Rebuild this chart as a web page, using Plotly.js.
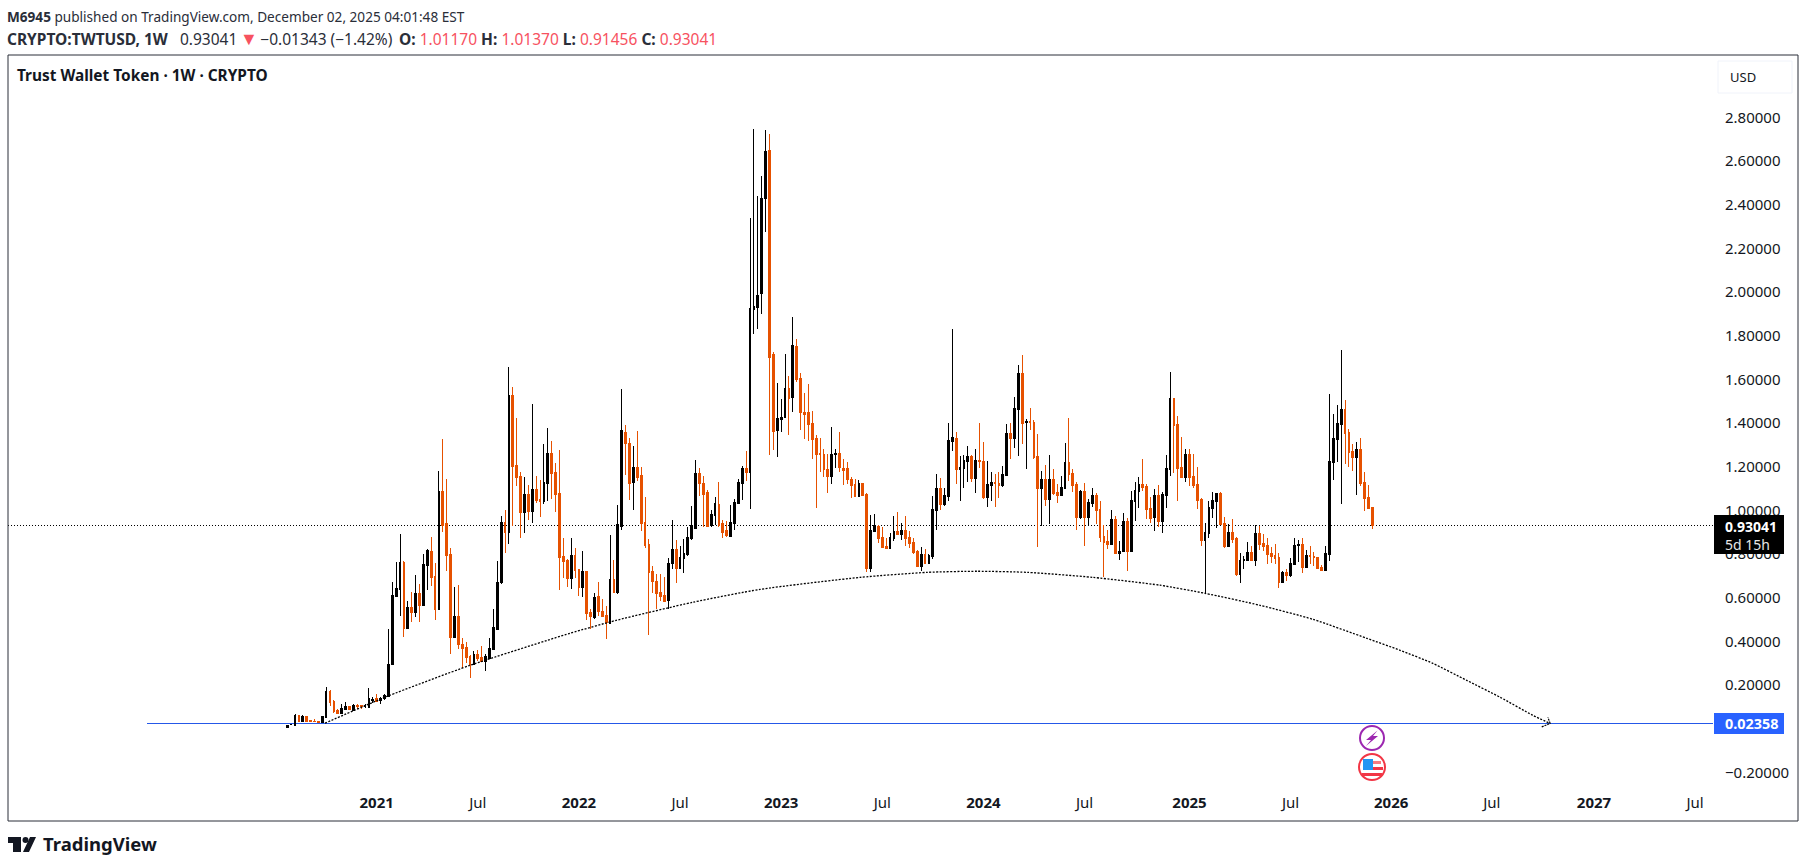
<!DOCTYPE html>
<html><head><meta charset="utf-8">
<script src="https://cdn.plot.ly/plotly-3.0.1.min.js"></script>
<style>html,body{margin:0;padding:0;background:#fff}#chart{width:1807px;height:868px}</style>
</head><body><div id="chart"></div>
<script>
var firstWeek = '2020-07-27';
var opens = [
0.006,0.017,0.015,0.061,0.035,0.056,0.038,0.035,0.033,0.026,
0.053,0.171,0.125,0.085,0.070,0.088,0.102,0.085,0.105,0.105,
0.101,0.099,0.130,0.137,0.127,0.136,0.148,0.292,0.606,0.638,
0.762,0.459,0.556,0.533,0.620,0.565,0.748,0.812,0.698,0.547,
1.087,0.940,0.798,0.418,0.514,0.386,0.372,0.331,0.295,0.340,
0.327,0.308,0.322,0.363,0.455,0.670,0.945,0.899,1.527,1.206,
1.156,0.991,1.073,0.995,1.096,1.050,1.041,1.124,1.261,1.174,
1.078,0.789,0.771,0.688,0.794,0.730,0.647,0.720,0.533,0.510,
0.606,0.538,0.519,0.483,0.684,0.624,0.926,1.357,1.307,1.128,
1.197,1.160,0.945,0.844,0.720,0.675,0.624,0.610,0.587,0.757,
0.821,0.734,0.780,0.798,0.872,0.917,1.169,1.123,1.082,0.931,
0.977,1.027,0.940,0.908,0.881,0.940,1.032,1.123,1.192,1.174,
1.921,1.930,1.994,2.429,2.649,1.714,1.366,1.417,1.426,1.559,
1.517,1.751,1.604,1.449,1.449,1.398,1.330,1.261,1.256,1.188,
1.156,1.256,1.261,1.192,1.192,1.142,1.119,1.064,1.124,1.073,
0.734,0.904,0.927,0.876,0.835,0.826,0.872,0.904,0.890,0.908,
0.876,0.853,0.812,0.743,0.798,0.757,0.789,1.000,1.101,1.027,
1.064,1.316,1.330,1.188,1.192,1.224,1.247,1.147,1.229,1.224,
1.060,1.115,1.128,1.124,1.115,1.160,1.353,1.330,1.463,1.628,
1.403,1.408,1.403,1.247,1.101,1.142,1.050,1.142,1.082,1.069,
1.101,1.220,1.169,1.119,0.968,1.087,0.968,1.032,1.069,1.005,
0.881,0.858,0.844,0.959,0.803,0.812,0.950,0.812,1.041,1.087,
1.119,1.110,1.009,0.968,1.069,0.950,1.069,1.188,1.514,1.395,
1.198,1.152,1.257,1.156,1.120,1.051,0.863,0.895,1.010,1.042,
1.078,0.941,0.836,0.900,0.872,0.707,0.769,0.772,0.808,0.772,
0.895,0.849,0.840,0.804,0.794,0.785,0.671,0.717,0.703,0.753,
0.840,0.845,0.740,0.794,0.790,0.785,0.740,0.726,0.799,1.220,
1.326,1.395,1.463,1.358,1.271,1.243,1.280,1.129,1.060,1.01170];
var highs = [
0.014,0.021,0.066,0.061,0.061,0.056,0.038,0.043,0.033,0.056,
0.189,0.175,0.130,0.090,0.111,0.120,0.102,0.111,0.113,0.105,
0.111,0.185,0.143,0.157,0.145,0.157,0.455,0.670,0.762,0.890,
0.766,0.583,0.624,0.702,0.661,0.798,0.821,0.876,0.757,1.179,
1.325,1.142,0.826,0.647,0.656,0.414,0.395,0.336,0.354,0.359,
0.377,0.340,0.414,0.547,0.766,0.973,1.000,1.655,1.563,1.421,
1.174,1.151,1.115,1.486,1.156,1.137,1.302,1.376,1.316,1.215,
1.275,0.872,0.776,0.872,0.826,0.730,0.812,0.720,0.547,0.620,
0.670,0.592,0.560,0.885,0.771,1.023,1.554,1.389,1.330,1.293,
1.362,1.197,1.059,0.867,0.743,0.707,0.707,0.697,0.780,0.954,
0.862,0.839,0.867,0.926,1.018,1.229,1.192,1.156,1.091,1.000,
1.059,1.128,0.954,0.949,1.023,1.050,1.142,1.201,1.270,2.337,
2.745,2.438,2.530,2.741,2.722,1.724,1.582,1.508,1.714,1.614,
1.884,1.783,1.627,1.536,1.577,1.453,1.343,1.330,1.279,1.256,
1.380,1.279,1.357,1.233,1.220,1.151,1.142,1.137,1.124,1.078,
0.977,0.982,0.931,0.922,0.872,0.895,0.973,0.991,0.940,0.973,
0.904,0.872,0.817,0.830,0.821,0.798,1.064,1.165,1.147,1.101,
1.399,1.829,1.357,1.247,1.252,1.293,1.252,1.279,1.399,1.311,
1.224,1.174,1.165,1.174,1.202,1.394,1.399,1.518,1.664,1.710,
1.417,1.467,1.412,1.348,1.179,1.206,1.252,1.188,1.119,1.156,
1.307,1.421,1.188,1.128,1.092,1.124,1.050,1.101,1.078,1.041,
0.931,0.908,1.000,0.973,0.858,0.986,0.963,1.087,1.128,1.151,
1.234,1.119,1.060,1.096,1.115,1.083,1.253,1.633,1.514,1.431,
1.335,1.280,1.280,1.257,1.198,1.056,0.941,1.042,1.083,1.078,
1.083,0.969,0.936,0.959,0.877,0.804,0.790,0.854,0.836,0.932,
0.927,0.891,0.872,0.831,0.845,0.804,0.721,0.730,0.781,0.872,
0.863,0.872,0.817,0.836,0.808,0.785,0.749,0.836,1.532,1.440,
1.482,1.734,1.505,1.372,1.303,1.312,1.330,1.175,1.115,1.01370];
var lows = [
0.006,0.017,0.015,0.030,0.033,0.035,0.029,0.032,0.026,0.026,
0.053,0.104,0.072,0.066,0.066,0.088,0.088,0.082,0.091,0.090,
0.095,0.093,0.119,0.122,0.113,0.131,0.148,0.292,0.601,0.514,
0.418,0.459,0.487,0.510,0.487,0.560,0.634,0.652,0.496,0.547,
0.899,0.721,0.340,0.414,0.363,0.276,0.299,0.230,0.295,0.308,
0.304,0.262,0.317,0.359,0.450,0.661,0.803,0.844,0.927,1.110,
0.872,0.895,0.954,0.940,1.032,0.968,1.028,1.041,1.050,0.991,
0.634,0.689,0.647,0.638,0.688,0.606,0.601,0.496,0.455,0.501,
0.515,0.515,0.409,0.483,0.620,0.615,0.908,1.160,1.046,1.000,
1.133,0.904,0.826,0.428,0.620,0.547,0.583,0.583,0.546,0.730,
0.665,0.730,0.711,0.789,0.862,0.913,1.064,0.923,0.922,0.926,
0.931,0.926,0.872,0.876,0.881,0.908,1.027,1.046,1.133,1.004,
1.806,1.829,1.898,2.273,1.252,1.275,1.243,1.357,1.421,1.343,
1.449,1.586,1.366,1.325,1.316,1.233,1.009,1.178,1.151,1.078,
1.123,1.192,1.174,1.114,1.123,1.055,1.059,1.059,1.064,0.716,
0.716,0.904,0.849,0.826,0.821,0.826,0.858,0.890,0.863,0.835,
0.826,0.798,0.743,0.721,0.757,0.753,0.775,0.908,1.000,1.018,
1.041,1.270,1.119,1.041,1.101,1.128,1.128,1.078,1.192,1.050,
1.014,1.041,1.014,1.055,1.105,1.156,1.234,1.284,1.247,1.302,
1.188,1.366,1.234,0.830,0.927,1.018,0.936,1.069,1.032,1.064,
1.101,1.133,1.082,0.908,0.959,0.835,0.927,1.014,0.936,0.853,
0.693,0.821,0.840,0.803,0.771,0.812,0.721,0.808,0.950,1.009,
1.087,0.959,0.940,0.904,0.922,0.895,1.010,1.156,1.170,1.042,
1.147,1.129,1.111,1.101,1.005,0.836,0.620,0.872,0.964,0.918,
0.932,0.827,0.836,0.849,0.698,0.666,0.730,0.767,0.772,0.744,
0.817,0.813,0.753,0.758,0.753,0.643,0.666,0.675,0.694,0.749,
0.762,0.712,0.735,0.753,0.744,0.730,0.721,0.726,0.767,1.138,
1.220,1.028,1.211,1.198,1.179,1.069,1.111,0.996,1.010,0.91456];
var closes = [
0.014,0.021,0.061,0.035,0.056,0.035,0.033,0.032,0.030,0.056,
0.171,0.122,0.079,0.070,0.091,0.102,0.088,0.105,0.101,0.102,
0.105,0.137,0.133,0.125,0.137,0.153,0.295,0.611,0.643,0.762,
0.459,0.556,0.533,0.620,0.565,0.753,0.817,0.693,0.547,1.087,
0.930,0.794,0.418,0.514,0.386,0.368,0.327,0.292,0.340,0.322,
0.308,0.331,0.368,0.464,0.670,0.945,0.899,1.527,1.202,1.151,
0.991,1.073,0.995,1.096,1.046,1.041,1.128,1.261,1.170,1.073,
0.785,0.766,0.689,0.794,0.725,0.647,0.720,0.528,0.515,0.602,
0.537,0.515,0.487,0.684,0.624,0.936,1.366,1.307,1.123,1.197,
1.151,0.940,0.839,0.716,0.675,0.620,0.606,0.583,0.757,0.821,
0.734,0.784,0.803,0.876,0.930,1.169,1.123,1.073,0.926,0.981,
1.032,0.931,0.899,0.885,0.945,1.036,1.128,1.192,1.174,1.925,
1.934,1.985,2.429,2.644,1.701,1.362,1.421,1.426,1.559,1.513,
1.756,1.600,1.449,1.440,1.394,1.325,1.256,1.256,1.188,1.156,
1.256,1.261,1.197,1.183,1.142,1.114,1.064,1.123,1.069,0.734,
0.908,0.931,0.872,0.830,0.826,0.876,0.904,0.890,0.908,0.872,
0.849,0.808,0.743,0.798,0.757,0.794,1.005,1.101,1.027,1.069,
1.321,1.334,1.188,1.197,1.229,1.247,1.147,1.229,1.224,1.060,
1.119,1.128,1.124,1.115,1.165,1.353,1.330,1.467,1.628,1.399,
1.408,1.403,1.243,1.101,1.142,1.050,1.142,1.078,1.069,1.105,
1.220,1.165,1.115,0.968,1.087,0.968,1.037,1.069,1.000,0.876,
0.853,0.844,0.959,0.803,0.812,0.950,0.812,1.046,1.092,1.119,
1.105,1.005,0.963,1.069,0.950,1.074,1.193,1.514,1.390,1.193,
1.152,1.257,1.152,1.115,1.046,0.863,0.900,1.014,1.046,1.078,
0.936,0.836,0.900,0.868,0.707,0.772,0.776,0.808,0.772,0.895,
0.845,0.836,0.799,0.790,0.781,0.671,0.717,0.703,0.758,0.840,
0.845,0.740,0.794,0.790,0.785,0.735,0.726,0.804,1.225,1.330,
1.399,1.463,1.353,1.266,1.243,1.280,1.124,1.056,1.010,0.93041];

var arcDates = ['2020-10-03','2021-01-23','2021-06-21','2021-12-18','2022-03-11','2022-07-27','2022-11-25','2023-05-24','2023-09-22','2023-12-21','2024-03-20','2024-07-16','2024-11-14','2025-02-03','2025-05-13','2025-08-16','2025-11-21','2026-01-20','2026-03-20','2026-05-20','2026-07-19','2026-09-16','2026-10-17'];
var arcPrices = [0.025,0.148,0.290,0.437,0.496,0.579,0.638,0.693,0.716,0.721,0.716,0.693,0.657,0.620,0.565,0.501,0.414,0.359,0.299,0.221,0.144,0.061,0.024];
var arrowDates = ['2026-10-02','2026-10-17','2026-10-13'];
var arrowPrices = [0.008,0.024,0.052];

var lastPrice = 0.93041;
var levelPrice = 0.02358;
var levelStart = '2019-11-18';
var xStart = '2019-03-12 10:00';
var xEnd = '2027-08-06 05:00';
var yRange = [-0.28103, 3.08137];
var priceTicks = [-0.2,0.2,0.4,0.6,0.8,1.0,1.2,1.4,1.6,1.8,2.0,2.2,2.4,2.6,2.8];
var timeTicks = ['2021-01-04','2021-07-05','2022-01-03','2022-07-04','2023-01-02','2023-07-03','2024-01-01','2024-07-01','2025-01-06','2025-07-07','2026-01-04','2026-07-04','2027-01-04','2027-07-05'];
var timeLabels = ['<b>2021</b>','Jul','<b>2022</b>','Jul','<b>2023</b>','Jul','<b>2024</b>','Jul','<b>2025</b>','Jul','<b>2026</b>','Jul','<b>2027</b>','Jul'];

var weeks = [];
var t0 = Date.parse(firstWeek + 'T00:00:00Z');
for (var i = 0; i < closes.length; i++) weeks.push(new Date(t0 + i * 7 * 864e5).toISOString().slice(0, 10));

var L = 8, R = 1713, T = 56, B = 790;
function px(x){ return (x - L) / (R - L); }
function py(y){ return (B - y) / (B - T); }
function rect(x0,y0,x1,y1,fill,line){
  return {type:'rect',xref:'paper',yref:'paper',x0:px(x0),x1:px(x1),y0:py(y0),y1:py(y1),fillcolor:fill,line:line||{width:0},layer:'above'};
}
function circle(cx,cy,r,fill,line){
  return {type:'circle',xref:'paper',yref:'paper',x0:px(cx-r),x1:px(cx+r),y0:py(cy-r),y1:py(cy+r),fillcolor:fill,line:line||{width:0},layer:'above'};
}
function poly(pts,fill){
  var d = pts.map(function(p,i){ return (i?'L':'M') + px(p[0]) + ' ' + py(p[1]); }).join(' ') + ' Z';
  return {type:'path',xref:'paper',yref:'paper',path:d,fillcolor:fill,line:{width:0},layer:'above'};
}
function note(x,y,text,size,color,anchor){
  return {xref:'paper',yref:'paper',x:px(x),y:py(y),text:text,showarrow:false,xanchor:anchor||'left',yanchor:'middle',
    font:{family:'"Noto Sans",sans-serif',size:size,color:color},align:'left',borderpad:0,borderwidth:0};
}

var red = '#f7525f', ink = '#131722';
function redText(s){ return '<span style="color:'+red+'">'+s+'</span>'; }
var gap = '\u2009\u200a';
var line2 = '<b>CRYPTO:TWTUSD, 1W</b>\u00a0\u00a0 0.93041\u2009<span style="color:'+red+';font-size:18px">▼</span>\u2009−0.01343 (−1.42%)\u00a0\u2009<b>O:</b>'+gap+redText('1.01170')+' <b>H:</b>'+gap+redText('1.01370')+' <b>L:</b>'+gap+redText('0.91456')+' <b>C:</b>'+gap+redText('0.93041');

var data = [
  {type:'scatter',mode:'lines',x:arcDates,y:arcPrices,line:{color:'#000',width:1.3,dash:'2px,1.5px',shape:'spline',smoothing:0.6},hoverinfo:'skip',showlegend:false},
  {type:'scatter',mode:'lines',x:arrowDates,y:arrowPrices,line:{color:'#000',width:1.2,dash:'2px,1px'},hoverinfo:'skip',showlegend:false},
  {type:'candlestick',x:weeks,open:opens,high:highs,low:lows,close:closes,whiskerwidth:0,
   increasing:{line:{color:'#000000',width:1},fillcolor:'#000000'},
   decreasing:{line:{color:'#e65100',width:1},fillcolor:'#e65100'},hoverinfo:'skip',showlegend:false}
];

var shapes = [
  {type:'line',xref:'paper',yref:'y',x0:0,x1:1,y0:lastPrice,y1:lastPrice,line:{color:'#000',width:1,dash:'1px,2px'},layer:'below'},
  {type:'line',xref:'x',yref:'y',x0:levelStart,x1:xEnd,y0:levelPrice,y1:levelPrice,line:{color:'#2558e8',width:1},layer:'below'},
  rect(8,55,1798,821,'rgba(0,0,0,0)',{color:'#2a2e39',width:1}),
  rect(1718,61,1792,93,'#ffffff',{color:'#f0f3fa',width:1}),
  rect(1714,515,1784,554,'#000000'),
  rect(1714,713,1784,734,'#2962ff'),
  circle(1372,738,12,'#ffffff',{color:'#9c27b0',width:2}),
  poly([[1377.5,730.5],[1366,740],[1371,740],[1366,746],[1378,736],[1373,736]],'#9c27b0'),
  circle(1372,767,13,'#ffffff',{color:'#f23645',width:2}),
  rect(1363,759,1373,770,'#2196f3'),
  rect(1373,761,1381,764,'#f77c80'),
  rect(1373,767,1383,770,'#f23645'),
  rect(1362,773,1382,776,'#f23645'),
  rect(8,837,21,843,ink),
  rect(13,837,21,852,ink),
  circle(25.5,840,3,ink),
  poly([[30,837],[36,837],[29,852],[23,852]],ink)
];

var annotations = [
  note(7,16,'<b>M6945</b> published on TradingView.com, December 02, 2025 04:01:48 EST',13.6,'#2a2e39'),
  note(7,38,line2,15.5,'#2a2e39'),
  note(17,76,'<b>Trust Wallet Token · 1W · CRYPTO</b>',15.4,ink),
  note(1730,77,'USD',13,ink),
  note(1725,526,'<b>0.93041</b>',14,'#ffffff'),
  note(1725,544,'5d 15h',14,'#e6e6e6'),
  note(1725,723.5,'<b>0.02358</b>',14.4,'#ffffff'),
  note(43,843.5,'<b>TradingView</b>',18.5,ink)
];

var layout = {
  width:1807,height:868,paper_bgcolor:'#ffffff',plot_bgcolor:'#ffffff',showlegend:false,
  margin:{l:L,r:1807-R,t:T,b:868-B,pad:0},
  dragmode:false,boxgap:0.36,
  font:{family:'"Noto Sans",sans-serif',size:15,color:ink},
  xaxis:{type:'date',range:[xStart,xEnd],rangeslider:{visible:false},showgrid:false,zeroline:false,showline:false,
    tickmode:'array',tickvals:timeTicks,ticktext:timeLabels,ticks:'',ticklabelstandoff:2,tickangle:0,tickfont:{size:15,color:ink}},
  yaxis:{range:yRange,side:'right',showgrid:false,zeroline:false,showline:false,tickmode:'array',tickvals:priceTicks,
    tickformat:'.5f',ticks:'',ticklabelstandoff:11,tickfont:{size:15,color:ink}},
  shapes:shapes,annotations:annotations
};
Plotly.newPlot('chart',data,layout,{displayModeBar:false,staticPlot:true});
document.querySelectorAll('.boxlayer path, .layer-below .shapelayer path, .cartesianlayer .shapelayer path').forEach(function(el){
  el.setAttribute('shape-rendering','crispEdges');
  el.style.shapeRendering = 'crispEdges';
});
</script></body></html>
